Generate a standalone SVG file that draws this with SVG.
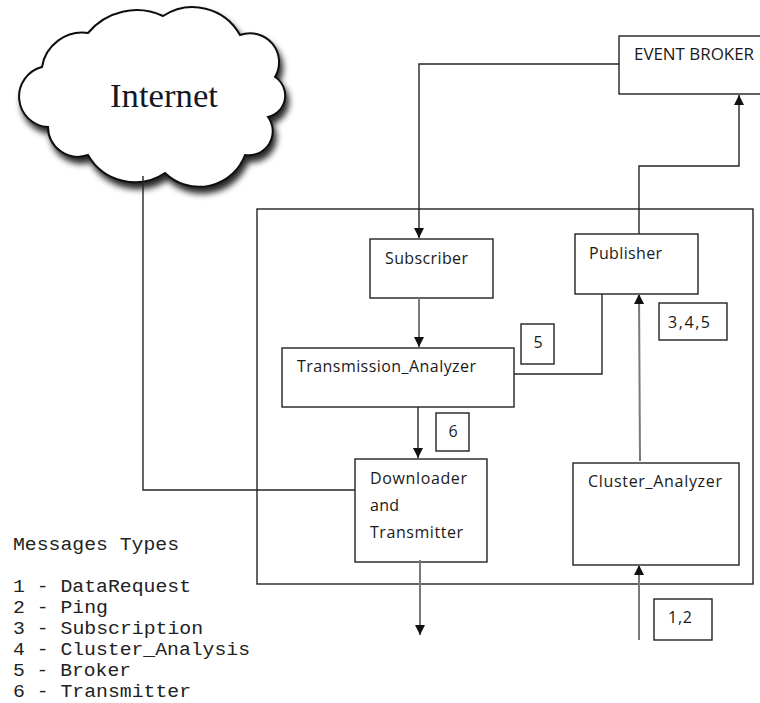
<svg xmlns="http://www.w3.org/2000/svg" width="760" height="703" viewBox="0 0 760 703">
  <style>
    .box { fill: #ffffff; stroke: #222222; stroke-width: 1.4; }
    .lbl { font-family: "Open Sans", "DejaVu Sans", sans-serif; font-size: 16px; fill: #1a1a1a; }
    .num { font-family: "Open Sans", "DejaVu Sans", sans-serif; font-size: 16px; fill: #1a1a1a; text-anchor: middle; }
    .wire { fill: none; stroke: #262626; stroke-width: 1.4; }
    .wire-g { fill: none; stroke: #7a7a7a; stroke-width: 2; }
    .legend { font-family: "Liberation Mono", "Courier New", monospace; font-size: 18px; fill: #222222; }
  </style>
  <defs>
    <marker id="arrow" viewBox="0 0 10 10" refX="10" refY="5" markerWidth="10" markerHeight="11" markerUnits="userSpaceOnUse" orient="auto">
      <path d="M0,0 L10,5 L0,10 Z" fill="#111111"/>
    </marker>
    <filter id="cloudShadow" x="-10%" y="-10%" width="130%" height="140%">
      <feDropShadow dx="3" dy="6" stdDeviation="3" flood-color="#000000" flood-opacity="0.85"/>
    </filter>
  </defs>

  <!-- Internet cloud -->
  <g id="internet">
    <path filter="url(#cloudShadow)" fill="#ffffff" stroke="#111111" stroke-width="2"
          d="M42,67 A41,41 0 0 1 88,33 A63,63 0 0 1 163,16 A54,54 0 0 1 240,35 A29,29 0 0 1 275,77 A22,22 0 0 1 268,117 A24,24 0 0 1 245,155 A49,49 0 0 1 165,173 A54,54 0 0 1 88,155 A30,30 0 0 1 48,127 A30.5,30.5 0 0 1 42,67 Z"/>
    <text x="110" y="107" font-family="Liberation Serif, serif" font-size="33" fill="#121826" textLength="108" lengthAdjust="spacingAndGlyphs">Internet</text>
  </g>

  <!-- Node container -->
  <g id="container">
    <rect class="box" x="257" y="209" width="496" height="375"/>
  </g>

  <g id="event-broker">
    <rect class="box" x="619" y="36" width="160" height="58"/>
    <text class="lbl" x="634" y="60" textLength="120" lengthAdjust="spacingAndGlyphs">EVENT BROKER</text>
  </g>

  <g id="subscriber">
    <rect class="box" x="370" y="239" width="123" height="59"/>
    <text class="lbl" x="385" y="264" textLength="83" lengthAdjust="spacing">Subscriber</text>
  </g>

  <g id="publisher">
    <rect class="box" x="575" y="234" width="123" height="60"/>
    <text class="lbl" x="589" y="259" textLength="73" lengthAdjust="spacing">Publisher</text>
  </g>

  <g id="transmission-analyzer">
    <rect class="box" x="282" y="348" width="232" height="59"/>
    <text class="lbl" x="297" y="372" textLength="179" lengthAdjust="spacing">Transmission_Analyzer</text>
  </g>

  <g id="downloader-transmitter">
    <rect class="box" x="355" y="459" width="132" height="103"/>
    <text class="lbl" x="370" y="484" textLength="97" lengthAdjust="spacing">Downloader</text>
    <text class="lbl" x="370" y="511" textLength="29" lengthAdjust="spacing">and</text>
    <text class="lbl" x="370" y="538" textLength="93" lengthAdjust="spacing">Transmitter</text>
  </g>

  <g id="cluster-analyzer">
    <rect class="box" x="573" y="463" width="166" height="102"/>
    <text class="lbl" x="588" y="487" textLength="134" lengthAdjust="spacing">Cluster_Analyzer</text>
  </g>

  <!-- Message type tags -->
  <g id="tag-5">
    <rect class="box" x="521" y="324" width="33" height="40"/>
    <text class="num" x="538" y="348">5</text>
  </g>
  <g id="tag-345">
    <rect class="box" x="659" y="303" width="68" height="37"/>
    <text class="num" x="689" y="328" textLength="42" lengthAdjust="spacing">3,4,5</text>
  </g>
  <g id="tag-6">
    <rect class="box" x="436" y="413" width="33" height="38"/>
    <text class="num" x="453" y="437">6</text>
  </g>
  <g id="tag-12">
    <rect class="box" x="654" y="599" width="58" height="41"/>
    <text class="num" x="680" y="623" textLength="24" lengthAdjust="spacing">1,2</text>
  </g>

  <!-- Connectors -->
  <g id="connectors">
    <polyline class="wire" points="619,64 419,64 419,238" marker-end="url(#arrow)"/>
    <polyline class="wire" points="639,234 639,166 739,166 739,95" marker-end="url(#arrow)"/>
    <line class="wire-g" x1="419" y1="298" x2="419" y2="347" marker-end="url(#arrow)"/>
    <polyline class="wire" points="514,374 602,374 602,294"/>
    <line class="wire-g" x1="640" y1="461" x2="639" y2="294" marker-end="url(#arrow)"/>
    <line class="wire" x1="418" y1="407" x2="418" y2="458" marker-end="url(#arrow)"/>
    <polyline class="wire" points="143,176 143,490 355,490"/>
    <line class="wire-g" x1="420" y1="560" x2="420" y2="635" marker-end="url(#arrow)"/>
    <line class="wire-g" x1="639" y1="640" x2="639" y2="565" marker-end="url(#arrow)"/>
  </g>

  <!-- Legend -->
  <g id="legend" class="legend">
    <text x="13" y="550" textLength="166" lengthAdjust="spacingAndGlyphs">Messages Types</text>
    <text x="13" y="592" textLength="178" lengthAdjust="spacingAndGlyphs">1 - DataRequest</text>
    <text x="13" y="613" textLength="95" lengthAdjust="spacingAndGlyphs">2 - Ping</text>
    <text x="13" y="634" textLength="190" lengthAdjust="spacingAndGlyphs">3 - Subscription</text>
    <text x="13" y="655" textLength="237" lengthAdjust="spacingAndGlyphs">4 - Cluster_Analysis</text>
    <text x="13" y="676" textLength="118" lengthAdjust="spacingAndGlyphs">5 - Broker</text>
    <text x="13" y="697" textLength="178" lengthAdjust="spacingAndGlyphs">6 - Transmitter</text>
  </g>
</svg>
